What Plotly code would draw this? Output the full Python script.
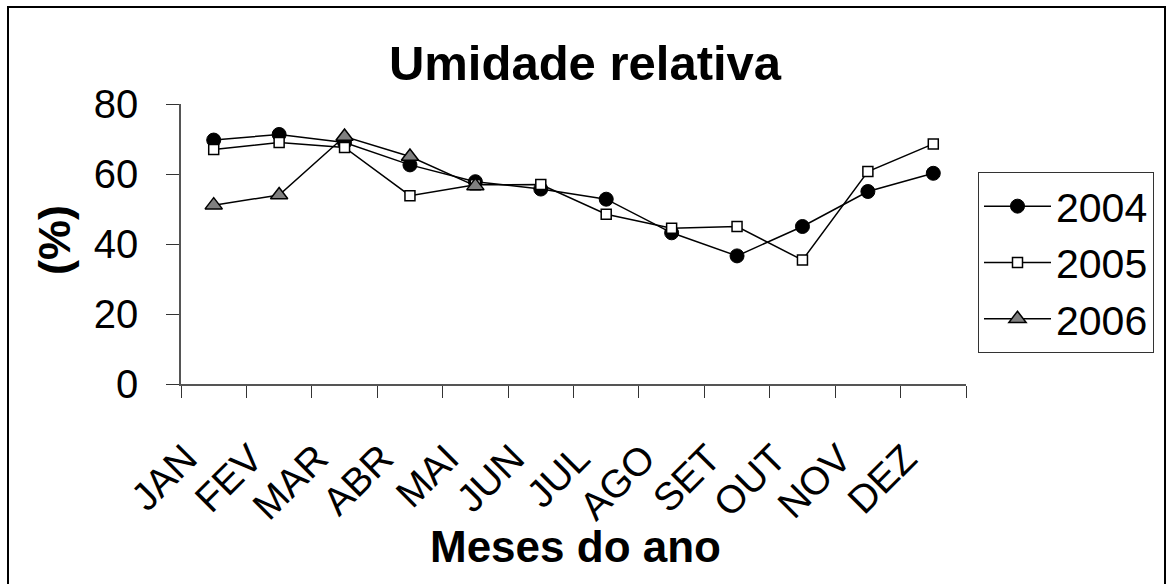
import plotly.graph_objects as go

# Relative humidity by month, three years
months = ["JAN", "FEV", "MAR", "ABR", "MAI", "JUN", "JUL", "AGO", "SET", "OUT", "NOV", "DEZ"]
u2004 = [69.7, 71.3, 69.0, 62.6, 57.8, 55.7, 52.8, 43.2, 36.6, 45.0, 55.0, 60.2]
u2005 = [67.0, 69.0, 67.6, 53.8, 56.9, 57.0, 48.5, 44.5, 45.0, 35.4, 60.7, 68.6]
u2006 = [51.1, 54.0, 70.7, 65.0, 56.6]
y_ticks = [0, 20, 40, 60, 80]

FONT = "Arial, Liberation Sans, sans-serif"
LINE = dict(color="black", width=1.5)

fig = go.Figure()
fig.add_trace(go.Scatter(
    x=months, y=u2004, name="2004", mode="lines+markers", line=LINE,
    marker=dict(symbol="circle", size=14, color="black", line=dict(color="black", width=1)),
))
fig.add_trace(go.Scatter(
    x=months, y=u2005, name="2005", mode="lines+markers", line=LINE,
    marker=dict(symbol="square", size=10, color="white", line=dict(color="black", width=1.5)),
))
fig.add_trace(go.Scatter(
    x=months[:len(u2006)], y=u2006, name="2006", mode="lines+markers", line=LINE,
    marker=dict(symbol="triangle-up", size=15, color="#808080", line=dict(color="black", width=1.5)),
))

W, H = 1166, 584
L, R, T, B = 181, 200, 104, 200
pw, ph = W - L - R, H - T - B


def px(x):
    return (x - L) / pw


def py(y):
    return (H - B - y) / ph


fig.update_layout(
    width=W, height=H,
    margin=dict(l=L, r=R, t=T, b=B),
    paper_bgcolor="white", plot_bgcolor="white",
    font=dict(family=FONT, color="black"),
    title=dict(text="<b>Umidade relativa</b>", x=585 / W, y=1 - 63 / H,
               xanchor="center", yanchor="middle", font=dict(size=49)),
    showlegend=True,
    legend=dict(x=px(978), y=py(172), xanchor="left", yanchor="top",
                bordercolor="#333", borderwidth=1, bgcolor="white",
                font=dict(size=41), itemwidth=67, traceorder="normal"),
    xaxis=dict(
        type="category", categoryorder="array", categoryarray=months,
        range=[-0.5, 11.5], tickson="boundaries", ticks="outside", ticklen=12,
        tickcolor="#333", showline=True, linecolor="#555", linewidth=1.5,
        showgrid=False, zeroline=False, tickangle=-45, tickfont=dict(size=39),
        ticklabelstandoff=34, ticklabelshift=-28,
    ),
    yaxis=dict(
        range=[0, 80], tickvals=y_ticks, ticks="outside", ticklen=13,
        tickcolor="#333", showline=True, linecolor="#555", linewidth=1.5,
        showgrid=False, zeroline=False, tickfont=dict(size=40),
        ticklabelstandoff=20,
    ),
    annotations=[
        dict(text="<b>(%)</b>", x=px(54), y=py(240), xref="paper", yref="paper",
             showarrow=False, textangle=-90, font=dict(size=45),
             xanchor="center", yanchor="middle"),
        dict(text="<b>Meses do ano</b>", x=px(575), y=py(546), xref="paper", yref="paper",
             showarrow=False, font=dict(size=44), xanchor="center", yanchor="middle"),
    ],
    shapes=[
        dict(type="rect", xref="paper", yref="paper",
             x0=px(8), x1=px(1165), y0=py(590), y1=py(7),
             line=dict(color="black", width=2), fillcolor="rgba(0,0,0,0)", layer="below"),
    ],
)

fig.write_html("out.html")
